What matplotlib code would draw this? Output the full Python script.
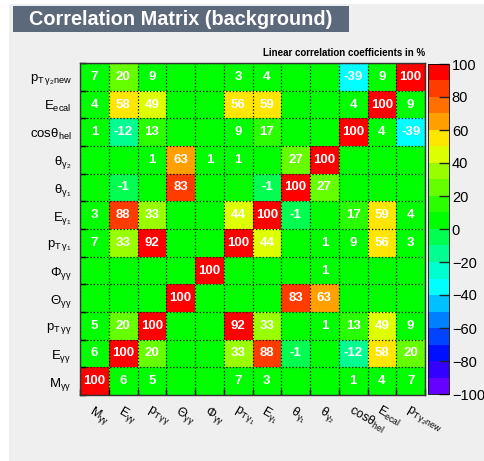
import numpy as np
import matplotlib
matplotlib.use("Agg")
import matplotlib.pyplot as plt
from matplotlib.colors import ListedColormap, BoundaryNorm
from matplotlib.patches import Rectangle

plt.rcParams["font.family"] = ["Liberation Sans", "DejaVu Sans"]
plt.rcParams["mathtext.fontset"] = "custom"
plt.rcParams["mathtext.rm"] = "Liberation Sans"
plt.rcParams["mathtext.it"] = "Liberation Sans:italic"
plt.rcParams["mathtext.default"] = "regular"

# variables, bottom-to-top on y and left-to-right on x
VAR_LABELS = [r"$M_{\gamma\gamma}$", r"$E_{\gamma\gamma}$", r"$p_{T\,\gamma\gamma}$",
              r"$\Theta_{\gamma\gamma}$", r"$\Phi_{\gamma\gamma}$", r"$p_{T\,\gamma_{1}}$",
              r"$E_{\gamma_{1}}$", r"$\theta_{\gamma_{1}}$", r"$\theta_{\gamma_{2}}$",
              r"$cos\theta_{hel}$", r"$E_{ecal}$", r"$p_{T\,\gamma_{2}new}$"]

# correlation in %, rows in the same order as VAR_LABELS
ROW_M = [100, 6, 5, 0, 0, 7, 3, 0, 0, 1, 4, 7]
ROW_E = [6, 100, 20, 0, 0, 33, 88, -1, 0, -12, 58, 20]
ROW_PT = [5, 20, 100, 0, 0, 92, 33, 0, 1, 13, 49, 9]
ROW_THETA = [0, 0, 0, 100, 0, 0, 0, 83, 63, 0, 0, 0]
ROW_PHI = [0, 0, 0, 0, 100, 0, 0, 0, 1, 0, 0, 0]
ROW_PT1 = [7, 33, 92, 0, 0, 100, 44, 0, 1, 9, 56, 3]
ROW_E1 = [3, 88, 33, 0, 0, 44, 100, -1, 0, 17, 59, 4]
ROW_TH1 = [0, -1, 0, 83, 0, 0, -1, 100, 27, 0, 0, 0]
ROW_TH2 = [0, 0, 1, 63, 1, 1, 0, 27, 100, 0, 0, 0]
ROW_COS = [1, -12, 13, 0, 0, 9, 17, 0, 0, 100, 4, -39]
ROW_ECAL = [4, 58, 49, 0, 0, 56, 59, 0, 0, 4, 100, 9]
ROW_PTNEW = [7, 20, 9, 0, 0, 3, 4, 0, 0, -39, 9, 100]

CORR = np.array([ROW_M, ROW_E, ROW_PT, ROW_THETA, ROW_PHI, ROW_PT1,
                 ROW_E1, ROW_TH1, ROW_TH2, ROW_COS, ROW_ECAL, ROW_PTNEW])

# ROOT-like 20-step palette from -100 to 100
PALETTE = ["#6600ff", "#3300ff", "#0010ff", "#0044ff", "#0080ff", "#00c0ff", "#00ffff",
           "#00ffd0", "#00ff90", "#00ff50", "#00ff00", "#2aff00", "#66ff00", "#99ff00",
           "#ddff00", "#ffe600", "#ffa000", "#ff7000", "#ff3c00", "#ff0000"]
cmap = ListedColormap(PALETTE)
bounds = np.linspace(-100, 100, 21)
norm = BoundaryNorm(bounds, cmap.N)

W, H = 484, 461
fig = plt.figure(figsize=(W / 100, H / 100), dpi=100, facecolor="white")

# canvas background + title box
fig.patches.append(Rectangle((9 / W, 0), 1 - 9 / W, 1 - 4 / H, transform=fig.transFigure,
                             facecolor="#efefef", edgecolor="none", zorder=-10))
fig.patches.append(Rectangle((13 / W, 1 - 32 / H), 336 / W, 26 / H, transform=fig.transFigure,
                             facecolor="#5c697b", edgecolor="none", zorder=-5))
fig.text(29 / W, 1 - 19.5 / H, "Correlation Matrix (background)", color="white",
         fontsize=14.3, fontweight="bold", va="center", ha="left")

ax = fig.add_axes([80 / W, 1 - 395 / H, 345 / W, 332 / H])
n = len(VAR_LABELS)
edges = np.arange(n + 1)
ax.pcolormesh(edges, edges, CORR, cmap=cmap, norm=norm)
for i in range(n):
    for j in range(n):
        v = CORR[i, j]
        if v != 0:
            ax.text(j + 0.5, i + 0.5, f"{v:d}", color="white", fontsize=9.5,
                    fontweight="bold", ha="center", va="center")

ax.set_xlim(0, n)
ax.set_ylim(0, n)
ax.set_xticks(np.arange(n) + 0.5)
ax.set_yticks(np.arange(n) + 0.5)
ax.set_xticklabels(VAR_LABELS, rotation=-30, ha="left", rotation_mode="anchor", fontsize=9)
ax.set_yticklabels(VAR_LABELS, fontsize=9.5)
ax.tick_params(which="major", length=0, pad=6)
ax.set_xticks(edges, minor=True)
ax.set_yticks(edges, minor=True)
ax.tick_params(which="minor", direction="in", length=4, width=1, color="black")
ax.grid(which="minor", color="black", linestyle=":", linewidth=0.9)
ax.grid(which="major", visible=False)
for s in ax.spines.values():
    s.set_linewidth(1.0)
    s.set_color("#333333")

ax.text(1.0, 1 + 10.5 / 332, "Linear correlation coefficients in %", transform=ax.transAxes,
        ha="right", va="center", fontsize=7, fontweight="bold")

# colour scale
cax = fig.add_axes([428 / W, 1 - 394 / H, 21 / W, 330 / H])
cb = fig.colorbar(plt.cm.ScalarMappable(norm=norm, cmap=cmap), cax=cax,
                  boundaries=bounds, ticks=np.arange(-100, 101, 20))
cb.ax.set_yticklabels([f"{t:d}" if t >= 0 else f"\u2212{abs(t):d}" for t in range(-100, 101, 20)])
cb.ax.tick_params(direction="in", length=7, width=1, labelsize=10.5, pad=2, color="#222222")
cb.ax.minorticks_off()
cb.outline.set_linewidth(0.6)

fig.savefig("out.png", dpi=100, facecolor=fig.get_facecolor())
